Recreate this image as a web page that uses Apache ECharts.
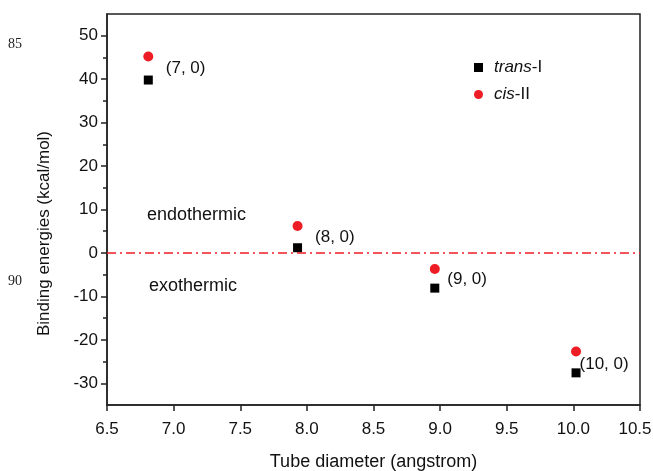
<!DOCTYPE html>
<html>
<head>
<meta charset="utf-8">
<script src="https://cdn.jsdelivr.net/npm/echarts@6/dist/echarts.min.js"></script>
<style>
html,body{margin:0;padding:0;background:#fff;}
#c{width:653px;height:471px;}
</style>
</head>
<body>
<div id="c"></div>
<script>
// ---- data ----
var tubeLabels = ['(7, 0)', '(8, 0)', '(9, 0)', '(10, 0)'];
var diameters = [6.81, 7.93, 8.96, 10.02];
var transI = [39.8, 1.2, -8.1, -27.6];
var cisII = [45.2, 6.2, -3.7, -22.7];
var yMajorTicks = [-30, -20, -10, 0, 10, 20, 30, 40, 50];
var yMinorTicks = [-25, -15, -5, 5, 15, 25, 35, 45];
var seriesNames = ['trans-I', 'cis-II'];
// label offsets (style only)
var labelOffsets = [[8, -12], [8, -10], [3, -9], [-6, -9]];

var font = 'Liberation Sans, Arial, sans-serif';
var ink = '#111';
var red = '#ee1c24';

var chart = echarts.init(document.getElementById('c'), null, {renderer: 'canvas'});

var transData = diameters.map(function (d, i) {
  return {
    value: [d, transI[i]],
    label: {
      show: true, position: 'right', offset: labelOffsets[i],
      formatter: tubeLabels[i], fontSize: 17, fontFamily: font, color: ink
    }
  };
});
var cisData = diameters.map(function (d, i) { return [d, cisII[i]]; });

var option = {
  animation: false,
  backgroundColor: '#fff',
  grid: {
    left: 107, right: 13, top: 14, bottom: 66,
    outerBoundsMode: 'none', containLabel: false,
    show: true, borderColor: '#222', borderWidth: 1.5, backgroundColor: 'transparent'
  },
  legend: {
    orient: 'vertical',
    left: 469, top: 54,
    itemWidth: 9, itemHeight: 9, itemGap: 10,
    data: [
      {name: seriesNames[0], icon: 'rect'},
      {name: seriesNames[1], icon: 'circle'}
    ],
    formatter: function (name) {
      var parts = name.split('-');
      return '{i|' + parts[0] + '}{n|-' + parts[1] + '}';
    },
    textStyle: {
      fontSize: 17, fontFamily: font, color: ink, padding: [0, 0, 0, 6],
      rich: {
        i: {fontStyle: 'italic', fontSize: 17, fontFamily: font, color: ink},
        n: {fontSize: 17, fontFamily: font, color: ink}
      }
    }
  },
  xAxis: {
    type: 'value', min: 6.5, max: 10.5, interval: 0.5,
    name: 'Tube diameter (angstrom)', nameLocation: 'middle', nameGap: 48,
    nameTextStyle: {fontSize: 18, fontFamily: font, color: ink},
    axisLine: {show: true, onZero: false, lineStyle: {color: '#222', width: 1.5}},
    axisTick: {show: true, inside: false, length: 6, lineStyle: {color: '#222', width: 1.5}},
    axisLabel: {fontSize: 17, fontFamily: font, color: ink, margin: 16,
      formatter: function (v) {
        var s = v.toFixed(1);
        return v >= 10.5 ? '{e|' + s + '}' : s;
      },
      rich: {e: {fontSize: 17, fontFamily: font, color: ink, padding: [0, 10, 0, 0]}}
    },
    splitLine: {show: false}
  },
  yAxis: [{
    type: 'value', min: -35, max: 55, interval: 5,
    name: 'Binding energies (kcal/mol)', nameLocation: 'middle', nameGap: 54,
    nameTextStyle: {fontSize: 17, fontFamily: font, color: ink, padding: [0, 48, 0, 0]},
    axisLine: {show: true, onZero: false, lineStyle: {color: '#222', width: 1.5}},
    axisTick: {show: true, inside: false, length: 6, customValues: yMajorTicks,
      lineStyle: {color: '#222', width: 1.5}},
    axisLabel: {fontSize: 17, fontFamily: font, color: ink, margin: 9, customValues: yMajorTicks},
    splitLine: {show: false}
  }, {
    type: 'value', min: -35, max: 55, interval: 5, position: 'left',
    axisLine: {show: false},
    axisTick: {show: true, inside: false, length: 4, customValues: yMinorTicks,
      lineStyle: {color: '#222', width: 1.5}},
    axisLabel: {show: false},
    splitLine: {show: false}
  }],
  graphic: [
    {type: 'text', left: 147, top: 206, style: {text: 'endothermic', fontSize: 18, fontFamily: font, fill: ink}},
    {type: 'text', left: 149, top: 277, style: {text: 'exothermic', fontSize: 18, fontFamily: font, fill: ink}},
    {type: 'text', left: 8, top: 37, style: {text: '85', fontSize: 14, fontFamily: 'Liberation Serif, serif', fill: '#222'}},
    {type: 'text', left: 8, top: 274, style: {text: '90', fontSize: 14, fontFamily: 'Liberation Serif, serif', fill: '#222'}}
  ],
  series: [{
    name: seriesNames[0], type: 'scatter', symbol: 'rect', symbolSize: 9,
    itemStyle: {color: '#000', opacity: 1},
    data: transData,
    z: 3
  }, {
    name: seriesNames[1], type: 'scatter', symbol: 'circle', symbolSize: 10,
    itemStyle: {color: red, opacity: 1},
    data: cisData,
    z: 3,
    markLine: {
      silent: true, symbol: ['none', 'none'], label: {show: false},
      lineStyle: {color: red, width: 1.5, type: [9, 4, 2, 4], opacity: 1},
      data: [{yAxis: 0}]
    }
  }]
};
chart.setOption(option);
</script>
</body>
</html>
